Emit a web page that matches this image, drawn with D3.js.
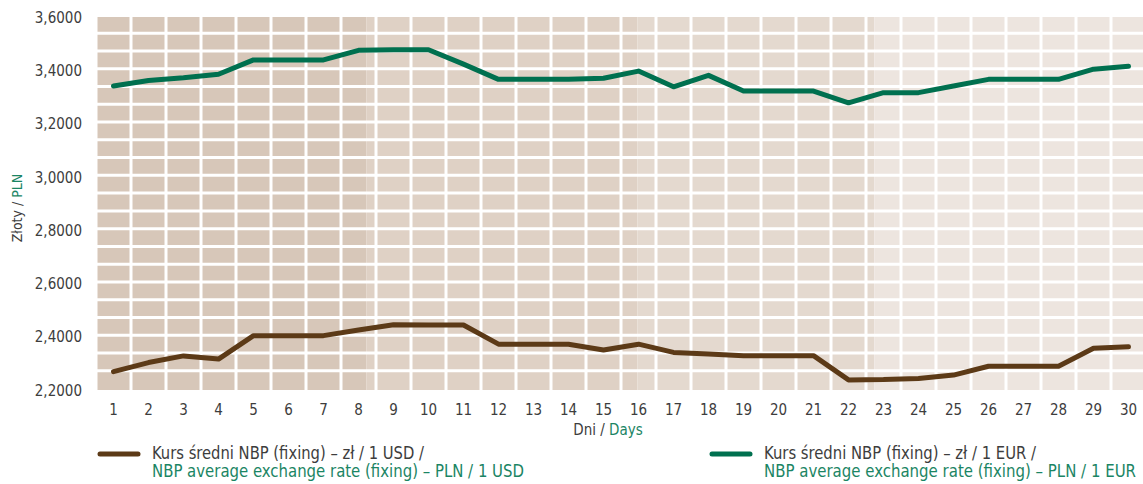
<!DOCTYPE html>
<html>
<head>
<meta charset="utf-8">
<script src="https://cdn.jsdelivr.net/npm/d3@7/dist/d3.min.js"></script>
<style>
    body { margin: 0; background: #fff; }
    #chart { width: 1143px; height: 484px; }
    text { font-family: "Liberation Sans Narrow", "DejaVu Sans Condensed", "Open Sans", sans-serif; fill: #3d3d3d; }
    .green { fill: #1b8564; }
</style>
</head>
<body>
<div id="chart"></div>
<script>
const days = d3.range(1, 31);
const usdRates = [2.269, 2.303, 2.328, 2.316, 2.404, 2.404, 2.404, 2.425, 2.445, 2.444,
    2.444, 2.372, 2.372, 2.372, 2.350, 2.372, 2.341, 2.335, 2.329, 2.329,
    2.329, 2.238, 2.239, 2.243, 2.256, 2.289, 2.289, 2.289, 2.357, 2.362];
const eurRates = [3.341, 3.362, 3.372, 3.385, 3.439, 3.439, 3.439, 3.475, 3.477, 3.477,
    3.423, 3.366, 3.366, 3.366, 3.370, 3.397, 3.338, 3.381, 3.322, 3.322,
    3.322, 3.278, 3.316, 3.316, 3.341, 3.366, 3.366, 3.366, 3.404, 3.415];
const yTicks = [2.2, 2.4, 2.6, 2.8, 3.0, 3.2, 3.4, 3.6];
// background shading zones, start of each zone in day-band units
const zoneStarts = [0, 7.73, 15.47, 22.24];
const zoneColors = ['#d7c7b9', '#dfd1c5', '#e4d9cf', '#ede5df'];
const legendItems = [
    {pl: 'Kurs średni NBP (fixing) – zł / 1 USD /', en: 'NBP average exchange rate (fixing) – PLN / 1 USD', color: '#5c3a17'},
    {pl: 'Kurs średni NBP (fixing) – zł / 1 EUR /', en: 'NBP average exchange rate (fixing) – PLN / 1 EUR', color: '#00704f'}
];

(function () {
    'use strict';

    const margin = {top: 17, right: 0, bottom: 94, left: 96};
    const W = 1143, H = 484;
    const width = 1050;
    const height = H - margin.top - margin.bottom;

    const svg = d3.select('#chart').append('svg').attr('width', W).attr('height', H);
    const g = svg.append('g').attr('transform', 'translate(' + margin.left + ',' + margin.top + ')');

    const xScale = d3.scaleBand().domain(days).range([0, width]);
    const yScale = d3.scaleLinear().domain([2.2, 3.6]).range([height, 0]);
    const bw = xScale.bandwidth();

    // shaded zones
    g.selectAll('.zone').data(zoneStarts).enter().append('rect')
        .attr('x', function (d) { return d * bw; })
        .attr('y', 0)
        .attr('width', function (d, i) {
            const end = i < zoneStarts.length - 1 ? zoneStarts[i + 1] * bw : width;
            return end - d * bw;
        })
        .attr('height', height)
        .attr('fill', function (d, i) { return zoneColors[i]; });

    // white tile grid
    const rows = 21;
    const rowH = height / rows;
    g.selectAll('.hgrid').data(d3.range(1, rows)).enter().append('line')
        .attr('x1', 0).attr('x2', width)
        .attr('y1', function (d) { return d * rowH - 1.5; })
        .attr('y2', function (d) { return d * rowH - 1.5; })
        .attr('stroke', '#fff').attr('stroke-width', 3);

    g.selectAll('.vgrid').data(days).enter().append('line')
        .attr('x1', function (d) { return xScale(d); })
        .attr('x2', function (d) { return xScale(d); })
        .attr('y1', 0).attr('y2', height)
        .attr('stroke', '#fff').attr('stroke-width', 3);

    // y axis
    const yAxis = d3.axisLeft(yScale).tickValues(yTicks).tickSize(0).tickPadding(0)
        .tickFormat(function (d) { return d3.format('.4f')(d).replace('.', ','); });
    g.append('g').attr('transform', 'translate(-14,0)').call(yAxis)
        .call(function (a) { a.select('.domain').remove(); })
        .selectAll('text').style('font-size', '15px').attr('dy', '0.35em');

    // x axis
    const xAxis = d3.axisBottom(xScale).tickSize(0).tickPadding(0);
    g.append('g').attr('transform', 'translate(0,' + (height + 14) + ')').call(xAxis)
        .call(function (a) { a.select('.domain').remove(); })
        .selectAll('text').style('font-size', '15px').attr('dy', '0.71em');

    // axis titles
    const xt = svg.append('text').attr('x', 608).attr('y', 435)
        .attr('text-anchor', 'middle').style('font-size', '15px');
    xt.append('tspan').text('Dni / ');
    xt.append('tspan').attr('class', 'green').text('Days');

    const yt = svg.append('text').attr('transform', 'translate(22,208) rotate(-90)')
        .attr('text-anchor', 'middle').style('font-size', '14px');
    yt.append('tspan').text('Złoty / ');
    yt.append('tspan').attr('class', 'green').text('PLN');

    // lines
    const line = d3.line()
        .x(function (d, i) { return xScale(days[i]) + bw / 2; })
        .y(function (d) { return yScale(d); });

    [usdRates, eurRates].forEach(function (series, i) {
        g.append('path').datum(series)
            .attr('d', line)
            .attr('fill', 'none')
            .attr('stroke', legendItems[i].color)
            .attr('stroke-width', 5)
            .attr('stroke-linejoin', 'round')
            .attr('stroke-linecap', 'round');
    });

    // legend
    const legend = svg.selectAll('.legend').data(legendItems).enter().append('g')
        .attr('transform', function (d, i) { return 'translate(' + (i === 0 ? 100 : 712) + ',454)'; });

    legend.append('line')
        .attr('x1', 0).attr('x2', 38)
        .attr('stroke', function (d) { return d.color; })
        .attr('stroke-width', 5)
        .attr('stroke-linecap', 'round');

    legend.append('text').attr('x', 52).attr('y', 5)
        .style('font-size', '18px')
        .attr('textLength', 272).attr('lengthAdjust', 'spacingAndGlyphs')
        .text(function (d) { return d.pl; });

    legend.append('text').attr('class', 'green').attr('x', 52).attr('y', 23)
        .style('font-size', '17px')
        .attr('textLength', 372).attr('lengthAdjust', 'spacingAndGlyphs')
        .text(function (d) { return d.en; });
}());
</script>
</body>
</html>
